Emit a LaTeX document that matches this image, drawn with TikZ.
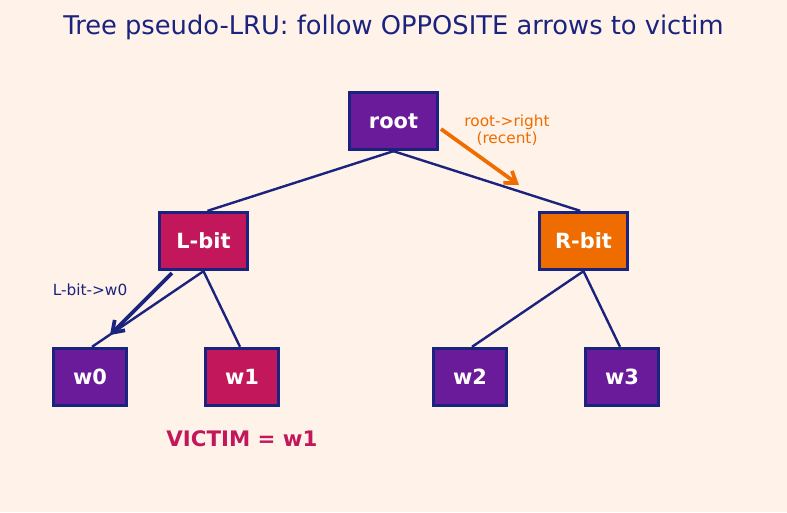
\documentclass[tikz,border=0pt]{standalone}
\usepackage{fontspec}
\setmainfont{DejaVu Sans}
\usetikzlibrary{arrows.meta}
\definecolor{bgc}{HTML}{FFF2E8}
\definecolor{navy}{HTML}{1A237E}
\definecolor{purp}{HTML}{6A1B9A}
\definecolor{crim}{HTML}{C2185B}
\definecolor{orng}{HTML}{EF6C00}
\tikzset{
  box/.style={draw=navy, line width=2.5pt, text=white, font=\bfseries\fontsize{15.7}{18}\selectfont, inner sep=0pt},
  inner/.style={box, minimum width=66pt, minimum height=42.75pt},
  leaf/.style={box, minimum width=54.75pt, minimum height=42.75pt},
  edge/.style={navy, line width=1.8pt},
  lbl/.style={font=\fontsize{11.5}{12.75}\selectfont, align=center}
}
\begin{document}
\begin{tikzpicture}[x=0.75pt,y=-0.75pt]
\fill[bgc] (0,0) rectangle (787,512);
\useasboundingbox (0,0) rectangle (787,512);
\node[text=navy, font=\fontsize{19.3}{22}\selectfont] (title) at (393.5,27) {Tree pseudo-LRU: follow OPPOSITE arrows to victim};
\node[inner, fill=purp] (root) at (393.5,121) {root};
\node[inner, fill=crim] (lbit) at (203.5,241) {L-bit};
\node[inner, fill=orng] (rbit) at (583.5,241) {R-bit};
\node[leaf, fill=purp] (w0) at (90,377) {w0};
\node[leaf, fill=crim] (w1) at (242,377) {w1};
\node[leaf, fill=purp] (w2) at (470,377) {w2};
\node[leaf, fill=purp] (w3) at (622,377) {w3};
\draw[edge] (root.south) -- ([xshift=3pt]lbit.north);
\draw[edge] (root.south) -- ([xshift=-2.5pt]rbit.north);
\draw[edge] (lbit.south) -- ([xshift=1.5pt]w0.north);
\draw[edge] (lbit.south) -- ([xshift=-1.5pt]w1.north);
\draw[edge] (rbit.south) -- ([xshift=1.5pt]w2.north);
\draw[edge] (rbit.south) -- ([xshift=-1.5pt]w3.north);
\coordinate (lbs) at (172,273);
\coordinate (w0t) at (110,335);
\draw[navy, line width=2.8pt, -{Straight Barb[length=8pt,width=11pt,line width=2.8pt]}] (lbs) -- (w0t);
\coordinate (rs) at (441,129);
\coordinate (re) at (519,185);
\draw[orng, line width=2.8pt, -{Straight Barb[length=8pt,width=11pt,line width=2.8pt]}] (rs) -- (re);
\node[lbl, text=orng] (rlab) at (507,130) {root->right\\(recent)};
\node[lbl, text=navy] (llab) at (90,290) {L-bit->w0};
\node[text=crim, font=\bfseries\fontsize{16}{19}\selectfont] (victim) at (242,439) {VICTIM = w1};
\end{tikzpicture}
\end{document}
